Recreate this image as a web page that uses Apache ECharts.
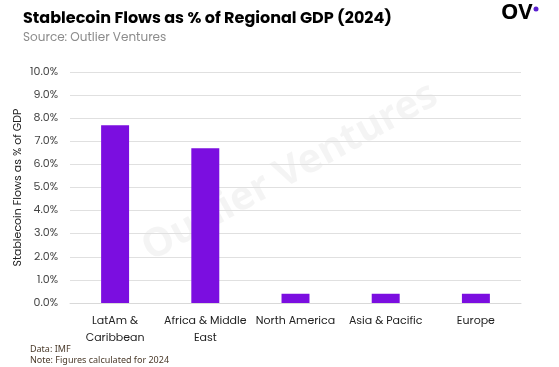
<!DOCTYPE html>
<html><head><meta charset="utf-8">
<script src="https://cdn.jsdelivr.net/npm/echarts@6/dist/echarts.min.js"></script>
<style>html,body{margin:0;padding:0;background:#fff}#c{width:559px;height:367px}</style>
</head><body><div id="c"></div>
<script>
const categories = ["LatAm &\nCaribbean", "Africa & Middle\nEast", "North America", "Asia & Pacific", "Europe"];
const values = [7.7, 6.7, 0.4, 0.4, 0.4];
const yTicks = [0, 1, 2, 3, 4, 5, 6, 7, 8, 9, 10];
const font = "Poppins, 'Noto Sans', sans-serif";
const chart = echarts.init(document.getElementById('c'));
chart.setOption({
  animation: false,
  backgroundColor: '#fff',
  title: [
    {text: 'Stablecoin Flows as % of Regional GDP (2024)', left: 18, top: 6,
     textStyle: {fontFamily: font, fontSize: 16, fontWeight: 'bold', color: '#000'}},
    {text: 'Source: Outlier Ventures', left: 18, top: 27,
     textStyle: {fontFamily: font, fontSize: 12, fontWeight: 'normal', color: '#8c8c8c'}}
  ],
  graphic: [
    {type: 'text', left: 501, top: 2, style: {text: 'OV', font: "bold 22px 'Noto Sans', sans-serif", fill: '#000'}},
    {type: 'circle', shape: {cx: 536, cy: 9, r: 2.5}, style: {fill: '#5a1fd0'}},
    {type: 'text', x: 290, y: 172, rotation: Math.PI * 0.16, z: 0,
     style: {text: 'Outlier Ventures', font: "bold 40px 'Noto Sans', sans-serif", fill: 'rgba(0,0,0,0.045)', align: 'center', verticalAlign: 'middle'}},
    {type: 'text', left: 30, top: 345, style: {text: 'Data: IMF', font: "9px 'Noto Sans', sans-serif", fill: '#4a3a2a'}},
    {type: 'text', left: 30, top: 356, style: {text: 'Note: Figures calculated for 2024', font: "9px 'Noto Sans', sans-serif", fill: '#4a3a2a'}}
  ],
  grid: {left: 70, right: 38, top: 72, bottom: 64, outerBoundsMode: 'none'},
  xAxis: {
    type: 'category', data: categories,
    axisLine: {show: true, lineStyle: {color: '#d9d9d9'}},
    axisTick: {show: false},
    axisLabel: {interval: 0, fontFamily: font, fontSize: 11, color: '#222', lineHeight: 17, margin: 10}
  },
  yAxis: {
    type: 'value', min: 0, max: 10, interval: 1,
    name: 'Stablecoin Flows as % of GDP', nameLocation: 'middle', nameGap: 46, nameMoveOverlap: false,
    nameTextStyle: {fontFamily: font, fontSize: 11, color: '#222'},
    axisLabel: {fontFamily: font, fontSize: 11, color: '#444', margin: 12,
      formatter: v => yTicks.includes(v) ? v.toFixed(1) + '%' : ''},
    splitLine: {lineStyle: {color: '#e0e0e0'}},
    axisLine: {show: false}, axisTick: {show: false}
  },
  series: [{
    type: 'bar', data: values, barWidth: '31%',
    itemStyle: {color: '#7b0ee0'}
  }]
});
</script></body></html>
